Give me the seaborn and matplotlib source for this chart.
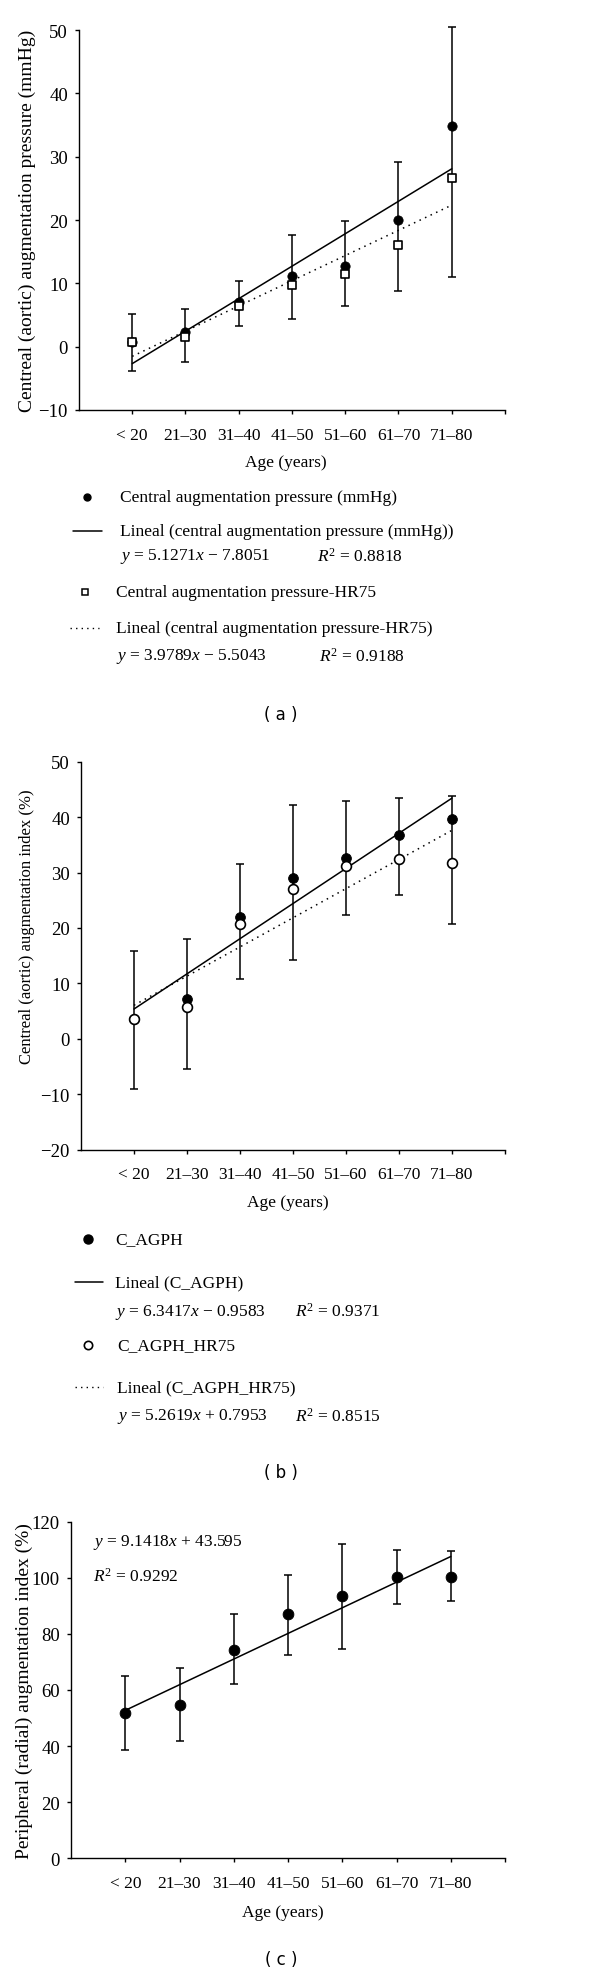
import numpy as np
import pandas as pd
import matplotlib.pyplot as plt
import seaborn as sns

sns.set_theme(style="ticks")
plt.rcParams.update({
    "font.family": ["Liberation Serif", "DejaVu Serif"],
    "mathtext.fontset": "custom",
    "mathtext.rm": "Liberation Serif",
    "mathtext.it": "Liberation Serif:italic",
    "axes.edgecolor": "black",
    "axes.linewidth": 1.0,
    "xtick.color": "black",
    "ytick.color": "black",
    "text.color": "black",
    "axes.labelcolor": "black",
})

ages = ["< 20", "21\u201330", "31\u201340", "41\u201350", "51\u201360", "61\u201370", "71\u201380"]

# (a) central augmentation pressure (mmHg)
cap_mmhg = [0.7, 2.3, 7.0, 11.2, 12.7, 20.0, 34.9]
cap_hr75 = [0.7, 1.5, 6.5, 9.7, 11.5, 16.0, 26.7]
cap_err_hi = [5.2, 5.9, 10.4, 17.7, 19.8, 29.1, 50.5]
cap_err_lo = [-3.8, -2.4, 3.2, 4.3, 6.4, 8.8, 11.0]
fit_cap = [5.1271, -7.8051]
fit_cap_hr = [3.9789, -5.5043]

# (b) central augmentation index (%)
agph = [3.6, 7.2, 21.9, 29.0, 32.6, 36.8, 39.7]
agph_hr75 = [3.6, 5.8, 20.8, 27.1, 31.2, 32.4, 31.7]
agph_err_hi = [15.9, 18.0, 31.5, 42.2, 43.0, 43.5, 43.8]
agph_err_lo = [-9.0, -5.4, 10.8, 14.3, 22.3, 25.9, 20.7]
fit_agph = [6.3417, -0.9583]
fit_agph_hr = [5.2619, 0.7953]

# (c) peripheral augmentation index (%)
pai = [51.8, 54.8, 74.4, 87.0, 93.6, 100.4, 100.4]
pai_err_hi = [65.0, 68.0, 87.0, 101.0, 112.2, 110.0, 109.5]
pai_err_lo = [38.7, 41.7, 62.3, 72.5, 74.7, 90.6, 91.6]
fit_pai = [9.1418, 43.595]

pos = np.arange(1, len(ages) + 1)
FS = 12.5

fig = plt.figure(figsize=(6, 19.74), dpi=100)
ax_a = fig.add_axes([79/600, 1-411/1974, 426/600, 380/1974])
ax_b = fig.add_axes([81/600, 1-1150.7/1974, 424/600, 388/1974])
ax_c = fig.add_axes([71/600, 1-1859.3/1974, 434/600, 336.6/1974])


def style_axis(ax, ylim, yticks, ylabel, ylab_fs, ylab_xy, xlab_xy):
    ax.set_xlim(0, 8)
    ax.set_ylim(*ylim)
    ax.set_xticks(list(pos) + [8])
    ax.set_xticklabels(ages + [""], fontsize=FS)
    ax.set_yticks(yticks)
    ax.set_yticklabels([str(t).replace("-", "\u2212") for t in yticks], fontsize=FS + 1)
    ax.tick_params(direction="out", length=3, width=1)
    ax.tick_params(axis="x", pad=9)
    ax.tick_params(axis="y", pad=5)
    ax.set_ylabel(ylabel, fontsize=ylab_fs, va="center")
    ax.yaxis.set_label_coords(*ylab_xy)
    ax.set_xlabel("Age (years)", fontsize=FS, va="center")
    ax.xaxis.set_label_coords(*xlab_xy)
    sns.despine(ax=ax)


def errbars(ax, ref, lo, hi):
    ref = np.array(ref)
    yerr = [ref - np.array(lo), np.array(hi) - ref]
    eb = ax.errorbar(pos, ref, yerr=yerr, fmt="none", ecolor="black",
                     elinewidth=1.1, capsize=3, capthick=1.1, zorder=2)
    for art in eb.lines[1] + eb.lines[2]:
        art.set_clip_on(False)


def trend(ax, fit, dotted=False):
    yy = fit[0] * pos + fit[1]
    ls = (0, (1, 3)) if dotted else "-"
    sns.lineplot(x=pos, y=yy, ax=ax, color="black", lw=1.1, linestyle=ls, zorder=3)


# panel a
errbars(ax_a, cap_mmhg, cap_err_lo, cap_err_hi)
trend(ax_a, fit_cap)
trend(ax_a, fit_cap_hr, dotted=True)
sns.scatterplot(x=pos, y=cap_mmhg, ax=ax_a, marker="o", s=45, color="black",
                edgecolor="black", zorder=4)
sns.scatterplot(x=pos, y=cap_hr75, ax=ax_a, marker="s", s=36, color="white",
                edgecolor="black", linewidth=1.2, zorder=5)
style_axis(ax_a, (-10, 50), [-10, 0, 10, 20, 30, 40, 50],
           "Centreal (aortic) augmentation pressure (mmHg)", 14,
           (-0.122, 0.5), (0.486, -0.137))

# panel b
errbars(ax_b, agph, agph_err_lo, agph_err_hi)
trend(ax_b, fit_agph)
trend(ax_b, fit_agph_hr, dotted=True)
sns.scatterplot(x=pos, y=agph, ax=ax_b, marker="o", s=50, color="black",
                edgecolor="black", zorder=4)
sns.scatterplot(x=pos, y=agph_hr75, ax=ax_b, marker="o", s=50, color="white",
                edgecolor="black", linewidth=1.2, zorder=5)
style_axis(ax_b, (-20, 50), [-20, -10, 0, 10, 20, 30, 40, 50],
           "Centreal (aortic) augmentation index (%)", 12,
           (-0.127, 0.577), (0.488, -0.135))

# panel c
errbars(ax_c, pai, pai_err_lo, pai_err_hi)
trend(ax_c, fit_pai)
sns.scatterplot(x=pos, y=pai, ax=ax_c, marker="o", s=60, color="black",
                edgecolor="black", zorder=4)
style_axis(ax_c, (0, 120), [0, 20, 40, 60, 80, 100, 120],
           "Peripheral (radial) augmentation index (%)", 14,
           (-0.108, 0.5), (0.488, -0.1595))

# legends / captions drawn in pixel coordinates
ov = fig.add_axes([0, 0, 1, 1], zorder=10)
ov.set_xlim(0, 600)
ov.set_ylim(1974, 0)
ov.axis("off")


def txt(x, y, s, **kw):
    ov.text(x, y, s, ha=kw.pop("ha", "left"), va="center", fontsize=kw.pop("fs", FS), **kw)


def eq(a, b, nd=4):
    sign = "+" if b >= 0 else "\u2212"
    return f"$y$ = {a:.4f}$x$ {sign} {abs(b):.{nd}f}"


# legend a
ov.plot([87], [498], "o", ms=5, color="black")
txt(120, 498, "Central augmentation pressure (mmHg)")
ov.plot([73, 102], [532, 532], color="black", lw=1.1)
txt(120, 532, "Lineal (central augmentation pressure (mmHg))")
txt(120, 557, eq(*fit_cap))
txt(317, 557, "$R^2$ = 0.8818")
ov.plot([85], [593], "s", ms=4.5, mfc="white", mec="black", mew=1.1)
txt(116, 593, "Central augmentation pressure-HR75")
ov.plot([70, 99], [629, 629], color="black", lw=1.0, linestyle=(0, (1, 3)))
txt(116, 629, "Lineal (central augmentation pressure-HR75)")
txt(116, 657, eq(*fit_cap_hr))
txt(319, 657, "$R^2$ = 0.9188")
txt(281, 715, "( a )", ha="center", family="DejaVu Sans", fs=12)

# legend b
ov.plot([88], [1240], "o", ms=6.5, color="black")
txt(115, 1240, "C_AGPH")
ov.plot([75, 103], [1283, 1283], color="black", lw=1.1)
txt(115, 1283, "Lineal (C_AGPH)")
txt(115, 1312, eq(*fit_agph))
txt(295, 1312, "$R^2$ = 0.9371")
ov.plot([88], [1346], "o", ms=6, mfc="white", mec="black", mew=1.2)
txt(117, 1346, "C_AGPH_HR75")
ov.plot([75, 103], [1388, 1388], color="black", lw=1.0, linestyle=(0, (1, 3)))
txt(117, 1388, "Lineal (C_AGPH_HR75)")
txt(117, 1417, eq(*fit_agph_hr))
txt(295, 1417, "$R^2$ = 0.8515")
txt(281, 1473, "( b )", ha="center", family="DejaVu Sans", fs=12)

# panel c annotation
txt(93, 1542, eq(*fit_pai, nd=3))
txt(93, 1577, "$R^2$ = 0.9292")
txt(281, 1960, "( c )", ha="center", family="DejaVu Sans", fs=12)

fig.savefig("out.png", dpi=100)
